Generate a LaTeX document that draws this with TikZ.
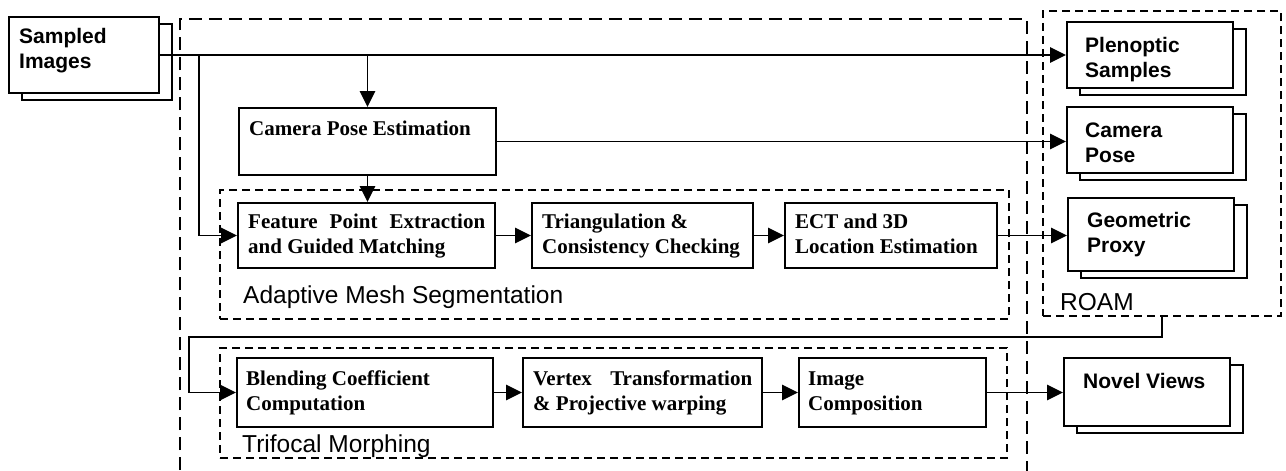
\documentclass[tikz,border=0pt]{standalone}
\usepackage{fontspec}
\setmainfont{Liberation Serif}
\setsansfont{Liberation Sans}
\usetikzlibrary{arrows.meta,shadows}
\newcommand{\twolines}[2]{\begin{tabular}[t]{@{}l@{}}#1\\#2\end{tabular}}
\tikzset{
  box/.style={draw, line width=2pt, fill=white, inner sep=0pt, rectangle},
  stackbox/.style={box, copy shadow={shadow xshift=13pt, shadow yshift=-7pt}},
  group/.style={draw, line width=1.4pt, dash pattern=on 8pt off 5pt, inner sep=0pt, rectangle},
  outergroup/.style={draw, line width=1.5pt, dash pattern=on 13pt off 7pt},
  conn/.style={line width=1.8pt, -{Triangle[length=16pt,width=15.5pt]}},
  txt/.style={anchor=base west, inner sep=0pt},
  serifb/.style={txt, font=\fontsize{21}{25}\selectfont\bfseries},
  sansb/.style={txt, font=\sffamily\bfseries\fontsize{21}{25}\selectfont},
  sansl/.style={txt, font=\sffamily\fontsize{24.5}{28}\selectfont},
}
\begin{document}
\begin{tikzpicture}[x=1pt,y=-1pt]
\fill[white] (0,0) rectangle (1286,471);
\useasboundingbox (0,0) rectangle (1286,471);

% outer dashed region
\draw[outergroup] (180,490) -- (180,19) -- (1027,19) -- (1027,490);

% inner dashed groups
\node[group, minimum width=789pt, minimum height=129pt] (ams) at (614.5,254.5) {};
\node[group, minimum width=787pt, minimum height=110pt] (trif) at (613.5,403) {};
\node[group, minimum width=238pt, minimum height=305pt] (roam) at (1162,163.5) {};

% stacked data boxes
\node[stackbox, minimum width=150pt, minimum height=76pt] (samp) at (84,55) {};
\node[stackbox, minimum width=166pt, minimum height=66pt] (pleno) at (1150,55) {};
\node[stackbox, minimum width=166pt, minimum height=66pt] (pose) at (1150,140) {};
\node[stackbox, minimum width=166pt, minimum height=73pt] (geo) at (1151,234.5) {};
\node[stackbox, minimum width=166pt, minimum height=68pt] (novel) at (1147,392) {};

% process boxes
\node[box, minimum width=257pt, minimum height=67pt] (cam) at (367.5,141.5) {};
\node[box, minimum width=257pt, minimum height=65pt] (feat) at (366.5,235.5) {};
\node[box, minimum width=221pt, minimum height=65pt] (tri) at (642.5,235.5) {};
\node[box, minimum width=212pt, minimum height=65pt] (ect) at (891,235.5) {};
\node[box, minimum width=256pt, minimum height=69pt] (blend) at (365,392.5) {};
\node[box, minimum width=239pt, minimum height=69pt] (vert) at (642.5,392.5) {};
\node[box, minimum width=187pt, minimum height=69pt] (img) at (892.5,392.5) {};

% texts
\node[sansb] (tsamp) at (19,43) {\twolines{Sampled}{Images}};
\node[sansb] (tpleno) at (1085,52) {\twolines{Plenoptic}{Samples}};
\node[sansb] (tpose) at (1085,137) {\twolines{Camera}{Pose}};
\node[sansb] (tgeo) at (1087,227) {\twolines{Geometric}{Proxy}};
\node[sansb] (tnovel) at (1083,388) {Novel Views};

\node[serifb] (tcam) at (249,135) {Camera Pose Estimation};
\node[serifb] (tfeat) at (248,228) {\twolines{\makebox[237pt][s]{Feature Point Extraction}}{and Guided Matching}};
\node[serifb] (ttri) at (542,228) {\twolines{Triangulation \&}{Consistency Checking}};
\node[serifb] (tect) at (795,228) {\twolines{ECT and 3D}{Location Estimation}};
\node[serifb] (tblend) at (246,385) {\twolines{Blending Coefficient}{Computation}};
\node[serifb] (tvert) at (533,385) {\twolines{\makebox[219pt][s]{Vertex Transformation}}{\& Projective warping}};
\node[serifb] (timg) at (808,385) {\twolines{Image}{Composition}};

\node[sansl] (tams) at (243,303) {Adaptive Mesh Segmentation};
\node[sansl] (ttrif) at (242,452) {Trifocal Morphing};
\node[sansl] (troam) at (1060,310) {ROAM};

% connectors
\coordinate (j1) at (199,55);
\coordinate (ret) at (189,337);
\draw[conn] (samp.east) -- (pleno.west);
\draw[conn] (cam.north |- samp.east) -- (cam.north);
\draw[conn] (j1) |- (feat.west);
\draw[conn] (cam.south) -- (cam.south |- feat.north);
\draw[conn] (cam.east) -- (cam.east -| pose.west);
\draw[conn] (feat.east) -- (feat.east -| tri.west);
\draw[conn] (tri.east) -- (tri.east -| ect.west);
\draw[conn] (ect.east) -- (ect.east -| geo.west);
\draw[conn] (roam.south) |- (ret) |- (blend.west);
\draw[conn] (blend.east) -- (blend.east -| vert.west);
\draw[conn] (vert.east) -- (vert.east -| img.west);
\draw[conn] (img.east) -- (img.east -| novel.west);
\end{tikzpicture}
\end{document}
